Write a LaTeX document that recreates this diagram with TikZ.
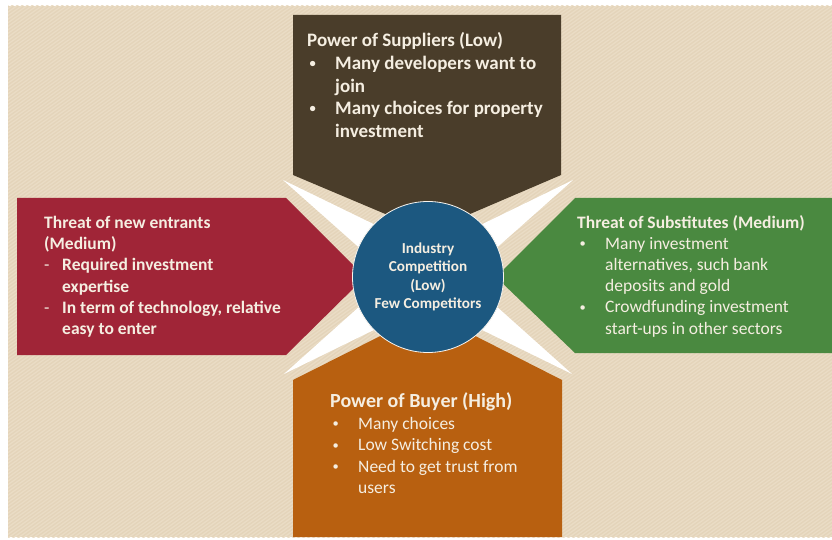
\documentclass[tikz,border=0pt]{standalone}
\usepackage{fontspec}
\setmainfont{Carlito}
\usetikzlibrary{positioning, calc}

\definecolor{paper}{HTML}{E4D4BA}
\definecolor{paperline}{HTML}{EADCC5}
\definecolor{supbrown}{HTML}{4A3D2A}
\definecolor{entred}{HTML}{A02537}
\definecolor{subgreen}{HTML}{4A8940}
\definecolor{buyorange}{HTML}{B86010}
\definecolor{compblue}{HTML}{1C5880}
\definecolor{cream}{HTML}{F5EEE1}

% list marks: small bullet or dash, then the hanging gap
\newcommand{\bitem}{\makebox[28pt][l]{\hspace{2.5pt}\raisebox{0.1em}{\fontsize{12.5}{12}\selectfont\textbullet}}}
\newcommand{\bgap}{\hspace*{28pt}}
\newcommand{\ditem}{\makebox[18pt][l]{\mdseries -}}
\newcommand{\dgap}{\hspace*{18pt}}

\begin{document}
\begin{tikzpicture}[
  x=1pt, y=-1pt,
  stripe/.style={draw=paperline, line width=1.3pt},
  ray/.style={fill=white},
  force/.style={text=cream, align=left, anchor=north west, inner sep=0pt}
]
\useasboundingbox (0,0) rectangle (832,540);

% ---------- paper background ----------
\fill[paper] (8,6) rectangle (832,537);
\begin{scope}
  \clip (8,6) rectangle (832,537);
  \foreach \s in {-760,-755,...,835}
    \draw[stripe] (\s,540) -- ++(760,-540);
\end{scope}

% ---------- white rays behind the centre ----------
\coordinate (mid) at (428,277);
\coordinate (tl) at (283,180);
\coordinate (tr) at (573,180);
\coordinate (bl) at (284,374);
\coordinate (br) at (572,374);
\foreach \c in {tl,tr,bl,br}
  \fill[ray] (\c) -- ($(mid)!24pt!90:(\c)$) -- ($(mid)!24pt!-90:(\c)$) -- cycle;

% ---------- the four forces ----------
\fill[supbrown] (293,15) -- (561,15) -- (561,175) -- (428,232) -- (293,175) -- cycle;
\fill[entred] (17,198) -- (286,198) -- (365,277) -- (286,355) -- (17,355) -- cycle;
\fill[subgreen] (575,198) -- (832,198) -- (832,353) -- (575,353) -- (496,277) -- cycle;
\fill[buyorange] (293,380) -- (428,312) -- (562,380) -- (562,537) -- (293,537) -- cycle;

% ---------- centre ----------
\node[circle, fill=compblue, draw=white!75!paper, line width=0.8pt, minimum size=151pt,
      text=cream, align=center, font=\fontsize{15.2}{18.5}\selectfont\bfseries] (ind) at (mid)
  {Industry\\Competition\\(Low)\\Few Competitors};

% ---------- texts ----------
\node[force, font=\fontsize{19}{22.6}\selectfont\bfseries] (suptxt) at (307,32.5)
  {Power of Suppliers (Low)\\
   \bitem Many developers want to\\
   \bgap join\\
   \bitem Many choices for property\\
   \bgap investment};

\node[force, font=\fontsize{17.5}{21.2}\selectfont\bfseries] (enttxt) at (44,216)
  {Threat of new entrants\\
   (Medium)\\
   \ditem Required investment\\
   \dgap expertise\\
   \ditem In term of technology, relative\\
   \dgap easy to enter};

\node[force, font=\fontsize{17.5}{21.2}\selectfont] (subtxt) at (577,215)
  {\textbf{Threat of Substitutes (Medium)}\\
   \bitem Many investment\\
   \bgap alternatives, such bank\\
   \bgap deposits and gold\\
   \bitem Crowdfunding investment\\
   \bgap start-ups in other sectors};

\node[force, font=\fontsize{20}{23}\selectfont\bfseries] (buyhead) at (330,392)
  {Power of Buyer (High)};
\node[force, font=\fontsize{17.5}{21.4}\selectfont, below right=6.5pt and 0pt of buyhead.south west] (buytxt)
  {\bitem Many choices\\
   \bitem Low Switching cost\\
   \bitem Need to get trust from\\
   \bgap users};

\end{tikzpicture}
\end{document}
